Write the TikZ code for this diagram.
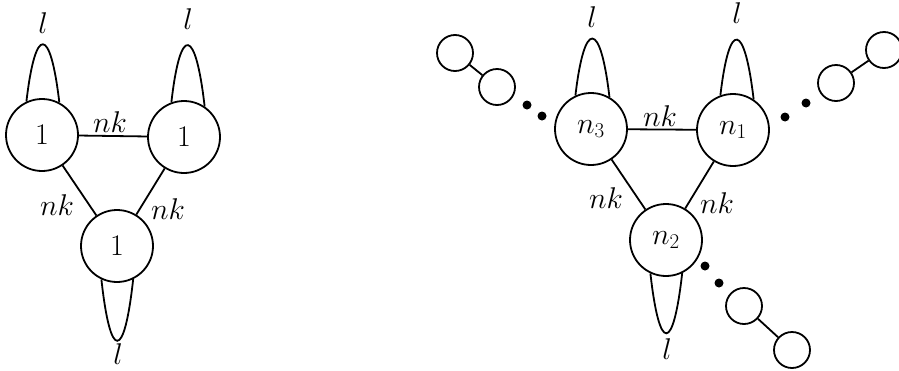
\RequirePackage{fix-cm}
\documentclass[tikz,border=0pt]{standalone}
\begin{document}
\begin{tikzpicture}[x=1pt,y=-1pt,line width=1.8pt,
  big/.style={circle,draw,minimum size=72pt,inner sep=0pt,font=\fontsize{30}{36}\selectfont},
  small/.style={circle,draw,minimum size=36pt,inner sep=0pt},
  dotnode/.style={circle,fill,minimum size=9pt,inner sep=0pt},
  lab/.style={inner sep=0pt,font=\fontsize{30}{36}\selectfont}]
\useasboundingbox (0,0) rectangle (899,370);
% left graph
\node[big] (A) at (42,135) {$1$};
\node[big] (B) at (184,137) {$1$};
\node[big] (C) at (117,246) {$1$};
\draw (A) -- (B);
\draw (A) -- (C);
\draw (B) -- (C);
\draw (A.115) .. controls +(9,-77) and +(-9,-77) .. (A.62);
\draw (B.110) .. controls +(9,-79) and +(-9,-79) .. (B.56);
\draw (C.245) .. controls +(9,82) and +(-9,82) .. (C.296);
\node[lab] (lA) at (43,23) {$l$};
\node[lab] (lB) at (188,19) {$l$};
\node[lab] (lC) at (118,354) {$l$};
\node[lab] (eAB) at (110,122) {$nk$};
\node[lab] (eAC) at (57,205) {$nk$};
\node[lab] (eBC) at (168,209) {$nk$};
% right graph
\node[big] (N3) at (591,129) {$n_3$};
\node[big] (N1) at (733,130) {$n_1$};
\node[big] (N2) at (666,240) {$n_2$};
\draw (N3) -- (N1);
\draw (N3) -- (N2);
\draw (N1) -- (N2);
\draw (N3.115) .. controls +(9,-77) and +(-9,-77) .. (N3.60);
\draw (N1.110) .. controls +(9,-77) and +(-9,-77) .. (N1.56);
\draw (N2.245) .. controls +(9,80) and +(-9,80) .. (N2.296);
\node[lab] (lN3) at (592,17) {$l$};
\node[lab] (lN1) at (737,13) {$l$};
\node[lab] (lN2) at (667,349) {$l$};
\node[lab] (eN31) at (660,116) {$nk$};
\node[lab] (eN32) at (606,198) {$nk$};
\node[lab] (eN12) at (717,203) {$nk$};
% chains
\node[small] (S1) at (455,53) {};
\node[small] (S2) at (497,87) {};
\draw (S1) -- (S2);
\node[dotnode] (D1) at (527,105) {};
\node[dotnode] (D2) at (542,116) {};
\node[small] (S3) at (836,83) {};
\node[small] (S4) at (884,50) {};
\draw (S3) -- (S4);
\node[dotnode] (D3) at (785,117) {};
\node[dotnode] (D4) at (806,103) {};
\node[dotnode] (D5) at (705,266) {};
\node[dotnode] (D6) at (719,283) {};
\node[small] (S5) at (744,306) {};
\node[small] (S6) at (792,350) {};
\draw (S5) -- (S6);
\end{tikzpicture}
\end{document}
